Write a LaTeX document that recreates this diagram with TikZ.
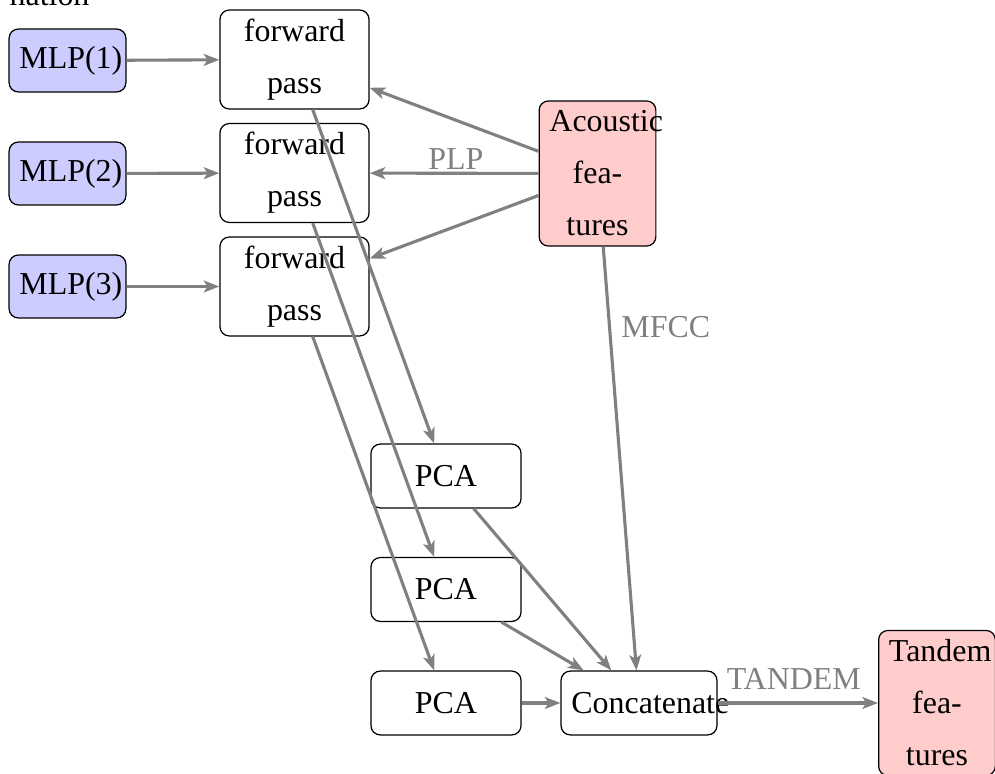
\documentclass[tikz,border=0pt]{standalone}
\usepackage{fontspec}
\setmainfont{Liberation Serif}
\usetikzlibrary{arrows.meta}
\begin{document}
\begin{tikzpicture}[x=0.3226pt,y=-0.3226pt,
  box/.style={draw=black, line width=0.4pt, rounded corners=3pt, align=center,
    inner xsep=3.33pt, inner ysep=0pt, font=\fontsize{10.3}{16.8}\selectfont},
  mlp/.style={box, fill=blue!20, minimum width=37.7pt, text width=31pt, minimum height=20.3pt},
  fp/.style={box, minimum width=48.1pt, text width=41.4pt, minimum height=31.9pt},
  feat/.style={box, fill=red!20, minimum width=37.6pt, text width=31pt, minimum height=46.8pt},
  pca/.style={box, minimum width=48.4pt, text width=41.7pt, minimum height=20.6pt},
  cat/.style={box, minimum width=50.3pt, text width=43.6pt, minimum height=20.6pt},
  arr/.style={draw=gray, line width=1pt, -{Stealth[length=5pt,width=3.8pt,inset=1.2pt]}},
  lab/.style={text=gray, font=\fontsize{10.3}{12}\selectfont, inner sep=0pt}
]
\useasboundingbox (0,0) rectangle (995,774);
\node[anchor=base west, inner sep=0pt, font=\fontsize{10.3}{12}\selectfont] (ttl) at (9,6) {nation};

\node[mlp] (m1) at (67.5,60.5) {MLP(1)};
\node[mlp] (m2) at (67.5,173.5) {MLP(2)};
\node[mlp] (m3) at (67.5,286.5) {MLP(3)};

\node[fp] (f1) at (294.5,59.5) {forward\\pass};
\node[fp] (f2) at (294.5,173) {forward\\pass};
\node[fp] (f3) at (294.5,286.5) {forward\\pass};

\node[feat] (ac) at (597.5,173.5) {Acoustic\\fea-\\tures};

\node[pca] (p1) at (446,476) {PCA};
\node[pca] (p2) at (446,589.5) {PCA};
\node[pca] (p3) at (446,703) {PCA};

\node[cat] (cc) at (639,703) {Concatenate};
\node[feat] (td) at (937,703) {Tandem\\fea-\\tures};

\draw[arr] (m1) -- (f1);
\draw[arr] (m2) -- (f2);
\draw[arr] (m3) -- (f3);

\draw[arr] (ac) -- (f1);
\draw[arr] (ac) -- node[lab, pos=0.49, anchor=base, yshift=1.3pt] {PLP} (f2);
\draw[arr] (ac) -- (f3);

\draw[arr] (f1) -- (p1);
\draw[arr] (f2) -- (p2);
\draw[arr] (f3) -- (p3);

\draw[arr] (p1) -- (cc);
\draw[arr] (p2) -- (cc);
\draw[arr] (p3) -- (cc);
\draw[arr] (ac) -- node[lab, pos=0.214, anchor=base west, xshift=3.1pt] {MFCC} (cc);

\draw[arr] (cc) -- node[lab, pos=0.475, anchor=base, yshift=4.2pt] {TANDEM} (td);
\end{tikzpicture}
\end{document}
